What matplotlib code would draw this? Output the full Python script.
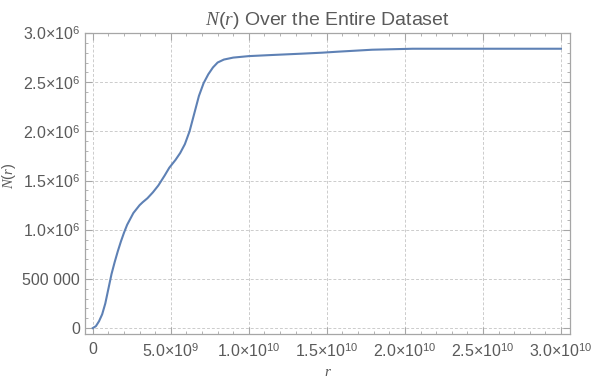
"""Cumulative count N(r) over the whole dataset, Mathematica-style frame."""

import numpy as np
import matplotlib.pyplot as plt
from matplotlib.ticker import MultipleLocator

plt.rcParams.update({
    "font.family": "Liberation Sans",
    "mathtext.fontset": "custom",
    "mathtext.rm": "Liberation Sans",
    "mathtext.it": "Liberation Serif:italic",
})

# values (r in units of 1e10, N in units of 1e6)
r = np.array([0, 0.02, 0.04, 0.06, 0.08, 0.10, 0.12, 0.14, 0.16, 0.18,
              0.20, 0.22, 0.24, 0.26, 0.28, 0.30, 0.32, 0.35, 0.385, 0.42,
              0.46, 0.49, 0.53, 0.56, 0.59, 0.62, 0.65, 0.68, 0.71, 0.74,
              0.77, 0.80, 0.84, 0.90, 1.0, 1.13, 1.34, 1.47, 1.57, 1.68,
              1.79, 2.05, 2.5, 3.0]) * 1e10
n_r = np.array([0, 0.02, 0.07, 0.14, 0.25, 0.40, 0.55, 0.67, 0.78, 0.88,
                0.97, 1.05, 1.11, 1.17, 1.21, 1.25, 1.28, 1.32, 1.38, 1.45,
                1.55, 1.63, 1.71, 1.78, 1.87, 2.0, 2.18, 2.36, 2.49, 2.58,
                2.65, 2.70, 2.73, 2.75, 2.765, 2.775, 2.79, 2.80, 2.81, 2.82,
                2.83, 2.84, 2.84, 2.84]) * 1e6

x_ticks = [0, 5e9, 1e10, 1.5e10, 2e10, 2.5e10, 3e10]
x_labels = ["0", "5.0×10$^{9}$", "1.0×10$^{10}$", "1.5×10$^{10}$",
            "2.0×10$^{10}$", "2.5×10$^{10}$", "3.0×10$^{10}$"]
y_ticks = [0, 5e5, 1e6, 1.5e6, 2e6, 2.5e6, 3e6]
y_labels = ["0", "500 000", "1.0×10$^{6}$", "1.5×10$^{6}$",
            "2.0×10$^{6}$", "2.5×10$^{6}$", "3.0×10$^{6}$"]

frame = "#a6a6a6"
txt = "#5a5a5a"

fig = plt.figure(figsize=(5.92, 3.84), dpi=100)
ax = fig.add_axes([85 / 592, 50 / 384, 485 / 592, 301 / 384])
ax.plot(r, n_r, color="#5e81b5", linewidth=1.5)

ax.set_xlim(-0.05e10, 3.058e10)
ax.set_ylim(-0.06e6, 3.0e6)
ax.set_xticks(x_ticks, x_labels)
ax.set_yticks(y_ticks, y_labels)
ax.xaxis.set_minor_locator(MultipleLocator(1e9))
ax.yaxis.set_minor_locator(MultipleLocator(1e5))

ax.tick_params(which="both", direction="in", top=True, right=True,
               color=frame, labelcolor=txt, labelsize=11.5)
ax.tick_params(which="major", length=5, width=0.8)
ax.tick_params(which="minor", length=2.5, width=0.6)
ax.tick_params(axis="x", pad=6)
for s in ax.spines.values():
    s.set_color(frame)
    s.set_linewidth(0.9)

ax.grid(True, which="major", color="#cccccc", linestyle=(0, (3, 2)), linewidth=0.7)

ax.set_title("$N(r)$ Over the Entire Dataset", color=txt, fontsize=14, pad=6)
ax.set_xlabel("$r$", color=txt, fontsize=11)
ax.set_ylabel("$N(r)$", color=txt, fontsize=10.5)
ax.xaxis.set_label_coords(0.5, -0.103)
ax.yaxis.set_label_coords(-0.138, 0.525)

fig.savefig("out.png", dpi=100)
